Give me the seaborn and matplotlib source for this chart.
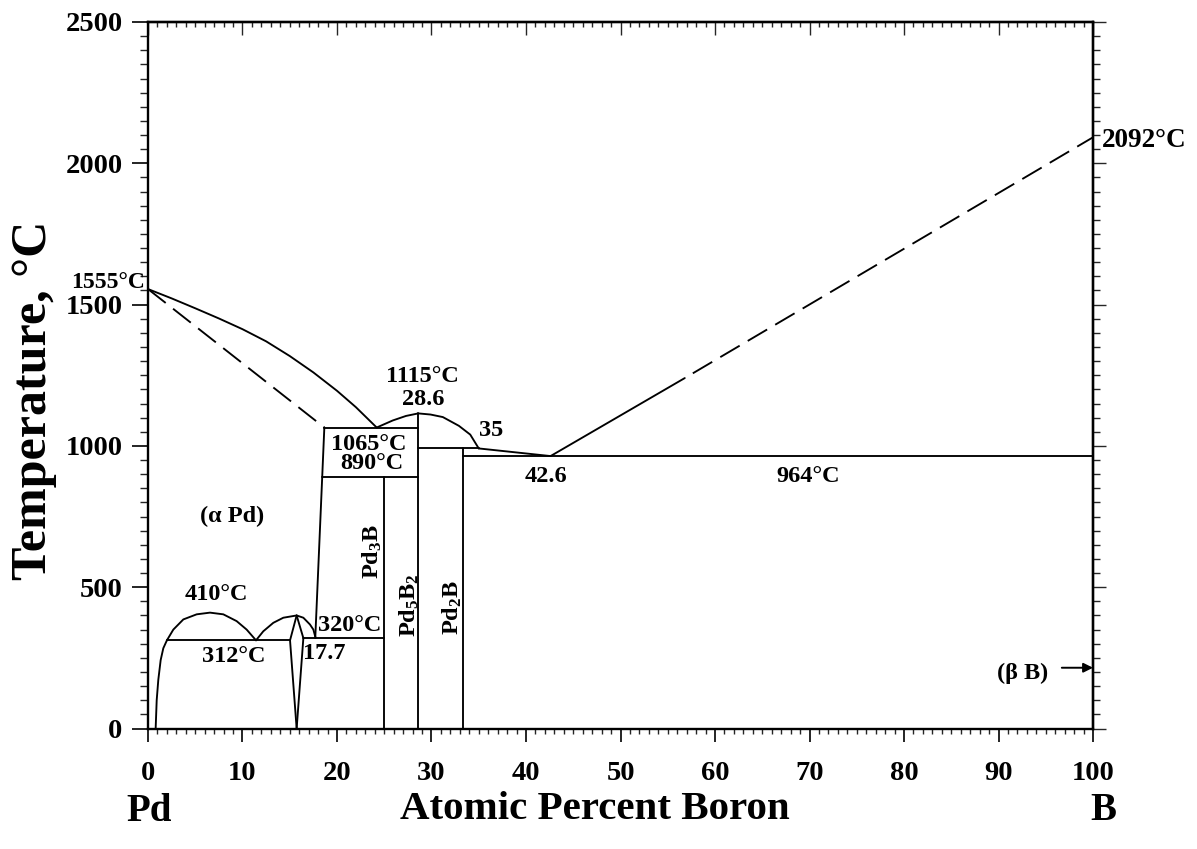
import matplotlib
matplotlib.use("Agg")
import matplotlib.pyplot as plt
from matplotlib.ticker import MultipleLocator
import pandas as pd
import seaborn as sns

# ---------------- Pd-B phase diagram data (x: at.% B, T: degC) ----------------
# Pd-rich liquidus from the Pd melting point to the 1065 degC eutectic
liq_pd_x = [0, 2.5, 5, 7.5, 10, 12.5, 15, 17.5, 20, 22, 24.2]
liq_pd_t = [1555, 1522, 1487, 1451, 1413, 1370, 1318, 1260, 1195, 1137, 1065]
# (alpha Pd) solidus (dashed)
sol_pd_x = [0, 18.66]
sol_pd_t = [1555, 1065]
# (alpha Pd) solvus
solvus_x = [18.66, 17.7]
solvus_t = [1065, 320]
# Pd5B2 liquidus dome
liq_p52_x = [24.2, 25.9, 27.3, 28.6, 29.9, 31.2, 32.9, 34.1, 35.0]
liq_p52_t = [1065, 1090, 1106, 1115, 1111, 1102, 1071, 1040, 991]
# liquidus between the Pd2B peritectic and the 964 degC eutectic
liq_mid_x = [35.0, 42.6]
liq_mid_t = [991, 964]
# boron liquidus (solid part, then dashed)
liq_b_x = [42.6, 56.8]
liq_b_t = [964, 1240]
liq_b_dash_x = [56.8, 100]
liq_b_dash_t = [1240, 2092]
# invariant horizontals
eut1065_x = [18.66, 28.6]
eut1065_t = [1065, 1065]
per890_x = [18.43, 28.6]
per890_t = [890, 890]
per_pd2b_x = [28.6, 35.0]
per_pd2b_t = [991, 991]
eut964_x = [33.3, 100]
eut964_t = [964, 964]
h320_x = [16.44, 25.0]
h320_t = [320, 320]
h312_x = [2.0, 15.03]
h312_t = [312, 312]
# compound lines
pd3b_x = [25.0, 25.0]
pd3b_t = [0, 890]
pd5b2_x = [28.6, 28.6]
pd5b2_t = [0, 1115]
pd2b_x = [33.3, 33.3]
pd2b_t = [0, 991]
# low-temperature ordering region on the Pd side
alpha_x = [0.81, 0.92, 1.09, 1.34, 1.62, 2.0]
alpha_t = [0, 100, 172, 242, 284, 312]
dome410_x = [2.0, 2.68, 3.74, 5.15, 6.56, 7.97, 9.38, 10.44, 11.43]
dome410_t = [312, 350, 386, 404, 410, 404, 380, 350, 312]
dome400_x = [11.43, 12.2, 13.26, 14.32, 15.73, 16.44, 17.14, 17.5, 17.74]
dome400_t = [312, 344, 374, 392, 400, 392, 368, 350, 320]
lens_left_x = [15.73, 15.03, 15.73]
lens_left_t = [400, 312, 0]
lens_right_x = [15.73, 16.44, 15.73]
lens_right_t = [400, 320, 0]

x_ticks = list(range(0, 101, 10))
t_ticks = [0, 500, 1000, 1500, 2000, 2500]

solid_segments = [
    (liq_pd_x, liq_pd_t), (solvus_x, solvus_t), (liq_p52_x, liq_p52_t),
    (liq_mid_x, liq_mid_t), (liq_b_x, liq_b_t), (eut1065_x, eut1065_t),
    (per890_x, per890_t), (per_pd2b_x, per_pd2b_t), (eut964_x, eut964_t),
    (h320_x, h320_t), (h312_x, h312_t), (pd3b_x, pd3b_t),
    (pd5b2_x, pd5b2_t), (pd2b_x, pd2b_t), (alpha_x, alpha_t),
    (dome410_x, dome410_t), (dome400_x, dome400_t),
    (lens_left_x, lens_left_t), (lens_right_x, lens_right_t),
]
dashed_segments = [(sol_pd_x, sol_pd_t, 0), (liq_b_dash_x, liq_b_dash_t, 12)]

# ---------------- style ----------------
sns.set_style("ticks")
FONT = "Liberation Serif"
plt.rcParams["font.family"] = [FONT, "DejaVu Serif"]
plt.rcParams["font.weight"] = "bold"
plt.rcParams["mathtext.fontset"] = "custom"
plt.rcParams["mathtext.rm"] = "Liberation Serif:bold"
plt.rcParams["mathtext.it"] = "Liberation Serif:italic:bold"
plt.rcParams["mathtext.bf"] = "Liberation Serif:bold"
plt.rcParams["mathtext.default"] = "rm"

fig = plt.figure(figsize=(11.97, 8.49), dpi=100)
ax = fig.add_axes([0.12364, 0.14193, 0.78948, 0.83216])

LW = 1.35
for xs, ts in solid_segments:
    d = pd.DataFrame({"x": xs, "T": ts})
    sns.lineplot(data=d, x="x", y="T", ax=ax, color="black", lw=LW,
                 sort=False, estimator=None)
for xs, ts, off in dashed_segments:
    d = pd.DataFrame({"x": xs, "T": ts})
    sns.lineplot(data=d, x="x", y="T", ax=ax, color="black", lw=LW,
                 sort=False, estimator=None, linestyle=(off, (12, 5)))

ax.set_xlim(0, 100)
ax.set_ylim(0, 2500)
ax.set_xlabel("")
ax.set_ylabel("")
ax.set_xticks(x_ticks)
ax.set_yticks(t_ticks)
ax.xaxis.set_minor_locator(MultipleLocator(1))
ax.yaxis.set_minor_locator(MultipleLocator(50))
for s in ax.spines.values():
    s.set_visible(True)
    s.set_linewidth(1.7)
    s.set_color("black")

ax.tick_params(axis="x", which="major", direction="out", length=9.2, width=1.2,
               pad=14, labelsize=20.5, colors="black")
ax.tick_params(axis="x", which="minor", direction="out", length=3.8, width=1.0)
ax.tick_params(axis="y", which="major", direction="out", length=11.3, width=1.2,
               pad=7, labelsize=20.5, colors="black")
ax.tick_params(axis="y", which="minor", direction="out", length=5.8, width=1.0)
for lab in ax.get_xticklabels() + ax.get_yticklabels():
    lab.set_fontweight("bold")
    lab.set_family(FONT)

top = ax.secondary_xaxis("top")
top.set_xticks(x_ticks)
top.xaxis.set_minor_locator(MultipleLocator(1))
top.tick_params(which="both", direction="in", labeltop=False, width=1.0)
top.tick_params(which="major", length=9.0)
top.tick_params(which="minor", length=3.6)
top.spines["top"].set_linewidth(1.7)

right = ax.secondary_yaxis("right")
right.set_yticks(t_ticks)
right.yaxis.set_minor_locator(MultipleLocator(50))
right.tick_params(which="both", direction="out", labelright=False, width=1.0)
right.tick_params(which="major", length=9.6)
right.tick_params(which="minor", length=4.8)
right.spines["right"].set_linewidth(1.7)

# ---------------- annotations ----------------
ANN = dict(fontsize=17.5, fontweight="bold", family=FONT, color="black",
           ha="center", va="center", clip_on=False)
ax.text(-0.3, 1578, "1555°C", **{**ANN, "ha": "right", "fontsize": 17})
ax.text(100.95, 2080, "2092°C", **{**ANN, "ha": "left", "fontsize": 19.5})
ax.text(29.0, 1245, "1115°C", **ANN)
ax.text(29.1, 1163, "28.6", **ANN)
ax.text(36.3, 1053, "35", **ANN)
ax.text(23.4, 1004, "1065°C", **ANN)
ax.text(23.7, 936, "890°C", **ANN)
ax.text(42.1, 891, "42.6", **ANN)
ax.text(69.9, 891, "964°C", **ANN)
ax.text(8.9, 749, "(α Pd)", **ANN)
ax.text(7.2, 473, "410°C", **ANN)
ax.text(9.1, 254, "312°C", **ANN)
ax.text(21.3, 366, "320°C", **ANN)
ax.text(18.6, 267, "17.7", **ANN)
ax.text(23.7, 626, "Pd$_3$B", rotation=90, **ANN)
ax.text(27.7, 437, "Pd$_5$B$_2$", rotation=90, **ANN)
ax.text(32.2, 427, "Pd$_2$B", rotation=90, **ANN)
ax.text(95.3, 195, "(β B)", **{**ANN, "ha": "right"})
ax.annotate("", xy=(100, 215), xytext=(96.7, 215),
            arrowprops=dict(arrowstyle="-|>", color="black", lw=1.4,
                            mutation_scale=14, shrinkA=0, shrinkB=0),
            annotation_clip=False)

BIG = dict(fontsize=28, fontweight="bold", family=FONT, color="black",
           ha="center", va="center")
fig.text(0.1245, 0.0436, "Pd", **BIG)
fig.text(0.9215, 0.0448, "B", **BIG)
fig.text(0.497, 0.046, "Atomic Percent Boron", **{**BIG, "fontsize": 29.5})
fig.text(0.0285, 0.529, "Temperature, °C", rotation=90, **{**BIG, "fontsize": 36})

fig.savefig("out.png", dpi=100, facecolor="white")
